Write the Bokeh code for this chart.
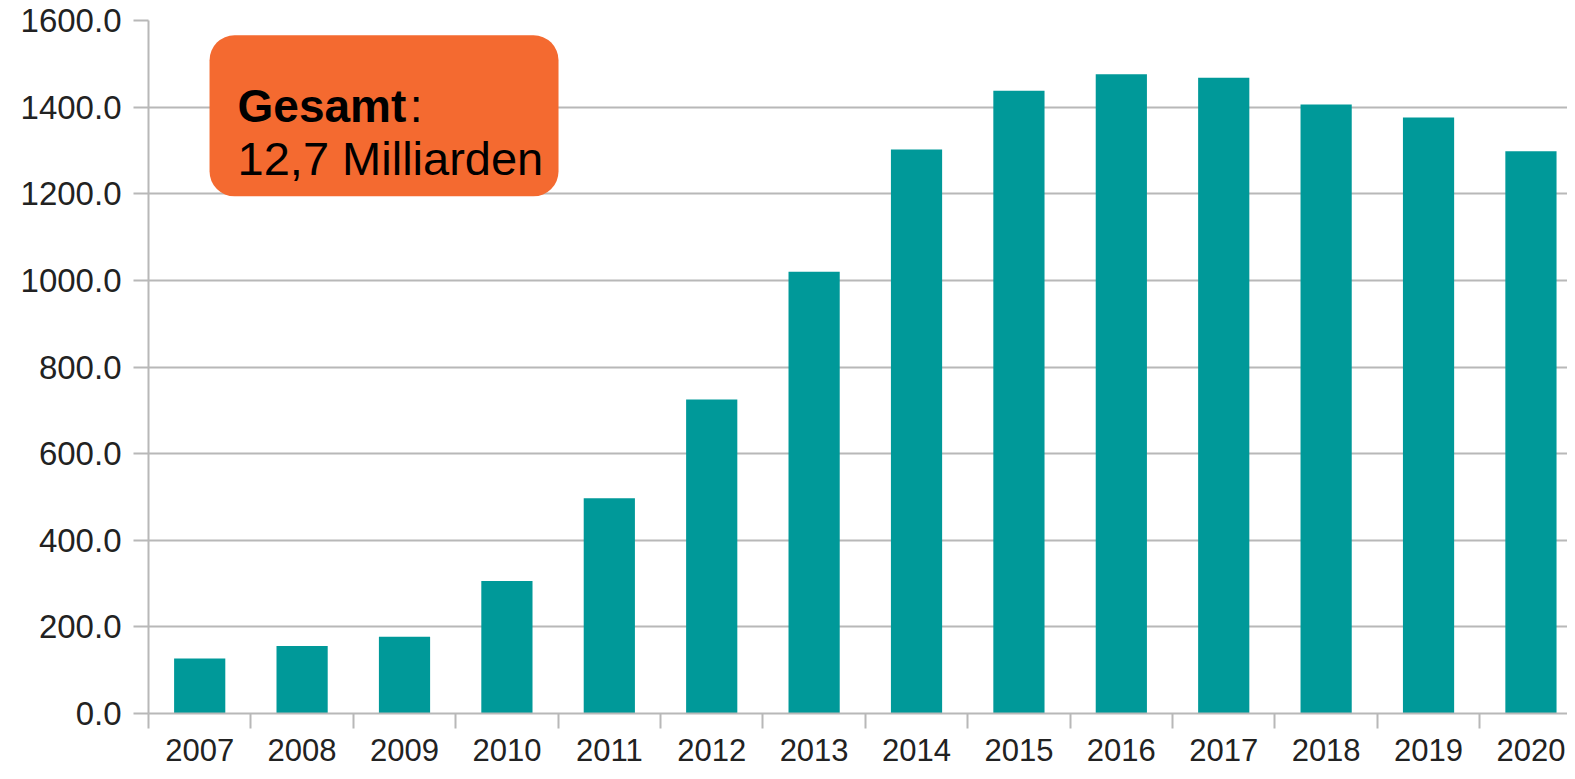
from bokeh.plotting import figure
from bokeh.models import Range1d, FixedTicker, BoxAnnotation, Label, ColumnDataSource
from bokeh.embed import file_html
from bokeh.resources import INLINE

years = ["2007", "2008", "2009", "2010", "2011", "2012", "2013",
         "2014", "2015", "2016", "2017", "2018", "2019", "2020"]
values = [127, 156, 177, 306, 497, 725, 1020, 1302, 1438, 1476, 1468, 1406, 1376, 1298]
y_ticks = [0, 200, 400, 600, 800, 1000, 1200, 1400, 1600]

centers = [i + 0.5 for i in range(len(years))]
bounds = list(range(len(years) + 1))

src = ColumnDataSource(dict(x=centers, top=values))

p = figure(width=1567, height=771, output_backend="svg", toolbar_location=None,
           x_range=Range1d(0, 13.857), y_range=Range1d(0, 1600),
           min_border_left=148, min_border_top=20, min_border_bottom=58,
           min_border_right=0)
p.outline_line_color = None
p.background_fill_color = "white"
p.border_fill_color = "white"

p.vbar(x="x", top="top", width=0.5, bottom=0, source=src,
       fill_color="#009999", line_color=None)

grid_col = "#b8b8b8"
# x axis
xa = p.xaxis[0]
xa.ticker = FixedTicker(ticks=centers, minor_ticks=bounds)
xa.major_label_overrides = {c: y for c, y in zip(centers, years)}
xa.major_tick_out = 0
xa.major_tick_in = 0
xa.major_tick_line_color = None
xa.minor_tick_out = 15
xa.minor_tick_in = 0
xa.minor_tick_line_color = grid_col
xa.minor_tick_line_width = 2
xa.axis_line_color = grid_col
xa.axis_line_width = 2
xa.major_label_text_font = "Liberation Sans"
xa.major_label_text_font_size = "31px"
xa.major_label_text_color = "#222222"
xa.major_label_standoff = 10

# y axis
ya = p.yaxis[0]
ya.ticker = FixedTicker(ticks=y_ticks)
ya.major_label_overrides = {t: f"{t:.1f}" for t in y_ticks}
ya.major_tick_out = 15
ya.major_tick_in = 0
ya.major_tick_line_color = grid_col
ya.major_tick_line_width = 2
ya.minor_tick_line_color = None
ya.axis_line_color = grid_col
ya.axis_line_width = 2
ya.major_label_text_font = "Liberation Sans"
ya.major_label_text_font_size = "33px"
ya.major_label_text_color = "#222222"
ya.major_label_standoff = 12

p.xgrid.grid_line_color = None
p.ygrid.grid_line_color = grid_col
p.ygrid.grid_line_width = 2
p.ygrid.ticker = FixedTicker(ticks=y_ticks)

box = BoxAnnotation(left=0.596, right=4.004, top=1566, bottom=1194,
                    fill_color="#F46A30", fill_alpha=1.0, line_color=None,
                    border_radius=25, level="overlay")
p.add_layout(box)

p.add_layout(Label(x=0.87, y=1403, text="Gesamt", text_font="Liberation Sans",
                   text_font_style="bold", text_font_size="46px", text_color="black",
                   text_baseline="alphabetic", level="overlay"))
p.add_layout(Label(x=2.55, y=1403, text=":", text_font="Liberation Sans",
                   text_font_size="46px", text_color="black",
                   text_baseline="alphabetic", level="overlay"))
p.add_layout(Label(x=0.87, y=1281, text="12,7 Milliarden", text_font="Liberation Sans",
                   text_font_size="47px", text_color="black",
                   text_baseline="alphabetic", level="overlay"))

open("out.html", "w").write(file_html(p, INLINE))
